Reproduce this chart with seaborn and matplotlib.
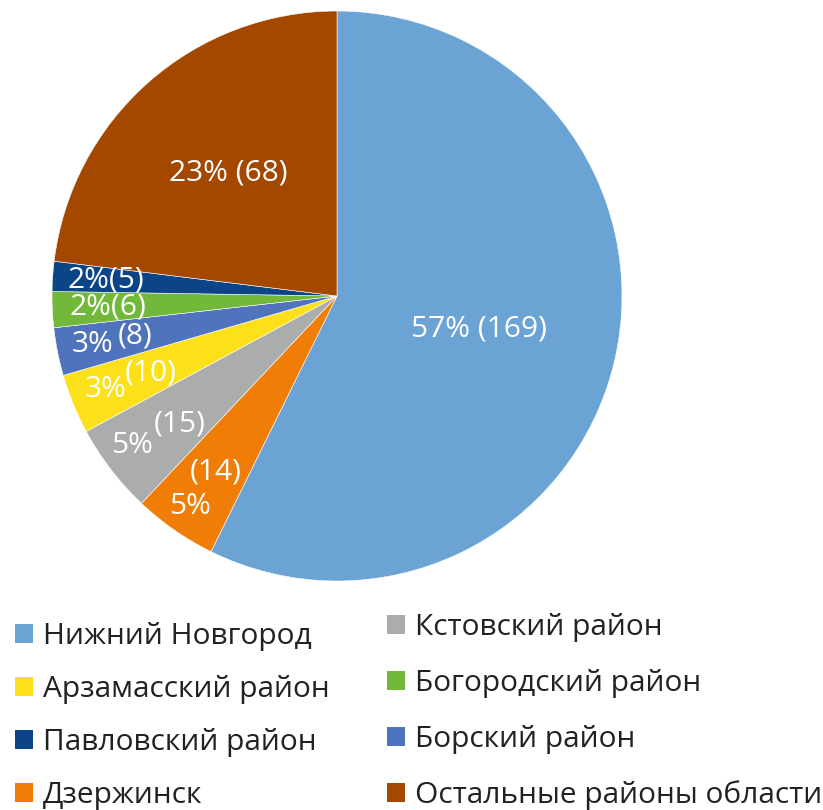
import numpy as np
import pandas as pd
import matplotlib
matplotlib.use("Agg")
import matplotlib.pyplot as plt
from matplotlib.patches import Patch
import seaborn as sns

# data (clockwise from 12 o'clock)
districts = ["Нижний Новгород", "Дзержинск", "Кстовский район", "Арзамасский район",
             "Борский район", "Богородский район", "Павловский район",
             "Остальные районы области"]
counts = [169, 14, 15, 10, 8, 6, 5, 68]
colors = ["#6CA3D5", "#F07E06", "#ABADAC", "#FCE01A",
          "#4F73BD", "#72B83A", "#0B4587", "#A44800"]

# legend order (two columns)
legend_left = ["Нижний Новгород", "Арзамасский район", "Павловский район", "Дзержинск"]
legend_right = ["Кстовский район", "Богородский район", "Борский район",
                "Остальные районы области"]

# label layout: radius of label, offset of "(n)" part from the "%" part, single-line or not
label_r = [0.513, 0.826, 0.80, 0.791, 0.797, 0.805, 0.814, 0.574]
label_split = [None, (0.046, 0.060), (0.084, 0.039), (0.079, 0.030),
               (0.075, 0.014), None, None, None]
label_sep = [" ", "", "", "", "", "", "", " "]

df = pd.DataFrame({"district": districts, "count": counts, "color": colors})
total = df["count"].sum()
df["pct"] = (df["count"] / total * 100).round().astype(int)

sns.set_theme(style="white")
plt.rcParams["font.family"] = ["Open Sans", "DejaVu Sans"]

fig = plt.figure(figsize=(8.23, 8.10), dpi=100)
ax = fig.add_axes([52 / 823, (810 - 581) / 810, 570 / 823, 570 / 810])

wedges, _ = ax.pie(df["count"], colors=df["color"], startangle=90, counterclock=False,
                   radius=1.0, wedgeprops=dict(edgecolor="white", linewidth=0.4))
ax.set_xlim(-1, 1)
ax.set_ylim(-1, 1)
ax.set_aspect("equal")

fs = 21.5
for i, w in enumerate(wedges):
    ang = np.deg2rad((w.theta1 + w.theta2) / 2)
    x = label_r[i] * np.cos(ang)
    y = label_r[i] * np.sin(ang)
    pct = f"{df['pct'][i]}%"
    cnt = f"({df['count'][i]})"
    if label_split[i] is None:
        ax.text(x, y, pct + label_sep[i] + cnt, color="white", fontsize=fs,
                ha="center", va="center")
    else:
        dx, dy = label_split[i]
        ax.text(x - dx, y - dy, pct, color="white", fontsize=fs, ha="center", va="center")
        ax.text(x + dx, y + dy, cnt, color="white", fontsize=fs, ha="center", va="center")

color_of = dict(zip(districts, colors))
leg_kw = dict(frameon=False, fontsize=21.5, borderpad=0, borderaxespad=0,
              handlelength=0.6, handleheight=0.6, handletextpad=0.33,
              labelcolor="#222222")

h_left = [Patch(facecolor=color_of[d], edgecolor="none") for d in legend_left]
fig.legend(h_left, legend_left, loc="upper left", bbox_to_anchor=(15 / 823, 0.2321),
           labelspacing=0.80, **leg_kw)

h_right = [Patch(facecolor=color_of[d], edgecolor="none") for d in legend_right]
fig.legend(h_right, legend_right, loc="upper left", bbox_to_anchor=(387 / 823, 0.2432),
           labelspacing=0.90, **leg_kw)

fig.savefig("out.png", dpi=100)
